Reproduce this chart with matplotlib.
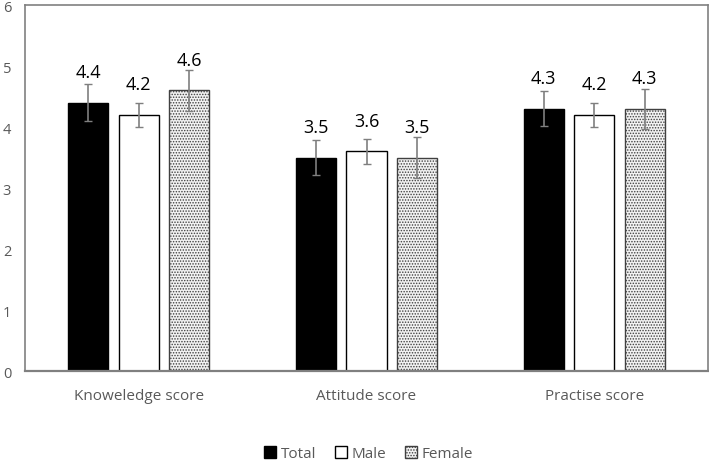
import matplotlib
matplotlib.use("Agg")
import matplotlib.pyplot as plt
import numpy as np

plt.rcParams['font.family'] = ['Open Sans', 'DejaVu Sans']
plt.rcParams['hatch.linewidth'] = 0.7

categories = ["Knoweledge score", "Attitude score", "Practise score"]
series = ["Total", "Male", "Female"]
total = [4.4, 3.5, 4.3]
male = [4.2, 3.6, 4.2]
female = [4.6, 3.5, 4.3]
total_err = [0.3, 0.29, 0.29]
male_err = [0.2, 0.2, 0.2]
female_err = [0.33, 0.34, 0.33]
yticks = [0, 1, 2, 3, 4, 5, 6]

fig = plt.figure(figsize=(7.09, 4.64), dpi=100)
ax = fig.add_axes([0.0353, 0.198, 0.9633, 0.789])

x = np.arange(len(categories))
w = 0.176
off = 0.222
styles = [
    dict(facecolor='black', edgecolor='black', hatch=None),
    dict(facecolor='white', edgecolor='black', hatch=None),
    dict(facecolor='#f2f2f2', edgecolor='#404040', hatch='......'),
]
data = [total, male, female]
errs = [total_err, male_err, female_err]
handles = []
for i, (vals, er, st, name) in enumerate(zip(data, errs, styles, series)):
    pos = x + (i - 1) * off
    b = ax.bar(pos, vals, width=w, facecolor=st['facecolor'], edgecolor=st['edgecolor'],
               hatch=st['hatch'], linewidth=1.0, label=name, zorder=2)
    ax.errorbar(pos, vals, yerr=er, fmt='none', ecolor='#7f7f7f', elinewidth=1.2,
                capsize=3, capthick=1.0, zorder=3)
    for px, v in zip(pos, vals):
        ax.annotate(f"{v:.1f}", (px, v), xytext=(0, 22), textcoords='offset points',
                    ha='center', va='center', fontsize=13, color='black')
    handles.append(b)

ax.set_xlim(-0.5, 2.5)
ax.set_ylim(0, 6)
ax.set_yticks(yticks)
ax.set_xticks(x)
ax.set_xticklabels(categories, fontsize=11, color='#595959')
ax.tick_params(axis='y', length=0, labelsize=10.5, labelcolor='#595959', pad=10)
ax.tick_params(axis='x', length=0, pad=12)
for s in ax.spines.values():
    s.set_color('#808080')
    s.set_linewidth(1.2)
ax.spines['bottom'].set_linewidth(1.6)

leg = fig.legend(handles=handles, labels=series, loc='lower center', bbox_to_anchor=(0.52, -0.026),
                 ncol=3, frameon=False, fontsize=11, handlelength=0.8, handleheight=0.8,
                 handletextpad=0.3, columnspacing=1.2)
for t in leg.get_texts():
    t.set_color('#595959')

fig.savefig("out.png", dpi=100)
